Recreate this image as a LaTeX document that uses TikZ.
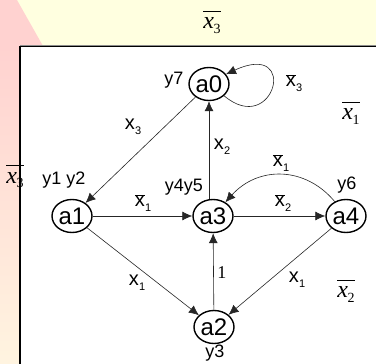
\documentclass[tikz,border=0pt]{standalone}
\usepackage{fontspec}
\setmainfont{Liberation Sans}
\newfontfamily\tms{Liberation Serif}
\usetikzlibrary{shapes.geometric,arrows.meta,calc}
\definecolor{bgyellow}{HTML}{FFFFE0}
\definecolor{bgpink}{HTML}{FFD2D0}
\definecolor{bgcream}{HTML}{FFF4E0}
\newcommand\xbr[1]{$\overline{\hbox{x}}$\kern0.3pt\raisebox{-0.45ex}{\fontsize{11}{11}\selectfont #1}}
\newcommand\xpl[1]{x\kern0.3pt\raisebox{-0.45ex}{\fontsize{11}{11}\selectfont #1}}
\newcommand\olab[1]{$\overline{\hbox{\vphantom{A}\tms\itshape x\/\kern-0.5pt\raisebox{-0.45ex}{\upshape\fontsize{14}{14}\selectfont #1}}}$}
\tikzset{
  st/.style={ellipse, draw, line width=1.4pt, minimum width=40pt, minimum height=33pt, inner sep=0pt, font=\fontsize{24}{24}\selectfont},
  ylab/.style={font=\fontsize{18}{18}\selectfont, inner sep=0pt},
  elab/.style={font=\fontsize{20}{20}\selectfont, inner sep=0pt},
  olabs/.style={font=\fontsize{24}{24}\selectfont, inner sep=0pt, anchor=base},
  conn/.style={line width=0.6pt, draw=black!85, -{Latex[length=10pt,width=9pt]}}
}
\begin{document}
\begin{tikzpicture}[x=1pt,y=-1pt]
\useasboundingbox (0,0) rectangle (376,364);
% background
\fill[bgyellow] (0,0) rectangle (376,46);
\fill[bgpink] (0,0) -- (17,0) -- (43,46) -- (0,46) -- cycle;
\shade[top color=bgpink, bottom color=bgcream] (0,46) rectangle (20,364);
\fill[white] (20,46) rectangle (377,365);
\draw[black!45, line width=1pt] (20,45.2) -- (377,45.2);
\draw[black, line width=1.4pt] (20,365) -- (20,46.5) -- (377,46.5);
% outside labels
\node[olabs] (t3) at (212,29) {\olab{3}};
\node[olabs] (l3) at (15,183) {\olab{3}};
\node[olabs] (r1) at (351,120) {\olab{1}};
\node[olabs] (r2) at (346,298) {\olab{2}};
% states
\node[st] (a0) at (209,84) {a0};
\node[st] (a1) at (72,216) {a1};
\node[st] (a3) at (213,216) {a3};
\node[st] (a4) at (346,216) {a4};
\node[st] (a2) at (214,327) {a2};
% output labels
\node[ylab] (y7) at (174,80) {y7};
\node[ylab] (y12) at (64,180) {y1 y2};
\node[ylab] (y45) at (184,187) {y4y5};
\node[ylab] (y6) at (347,185) {y6};
\node[ylab] (y3) at (215,353) {y3};
% connectors
\draw[conn] (a0) -- (a1);
\draw[conn] (a3.north -| a0.south) -- (a0.south);
\draw[conn] (a1) -- (a3);
\draw[conn] (a1) -- (a2);
\draw[conn] (a3) -- (a4);
\draw[conn] (a2) -- (a3);
\draw[conn] (a4) -- (a2);
\draw[conn] (a4.128) .. controls (305,166) and (258,166) .. (a3.48);
\draw[conn] (a0.-38) .. controls (274,138) and (300,40) .. (a0.30);
% connector labels
\node[elab] (lx3) at (133,127) {\xpl{3}};
\node[elab] (lx2) at (222,147) {\xpl{2}};
\node[elab] (lb1) at (143,203) {\xbr{1}};
\node[elab] (lx1a) at (137,283) {\xpl{1}};
\node[elab] (lb2) at (283,203) {\xbr{2}};
\node[elab] (lb1c) at (281,163) {\xbr{1}};
\node[elab, font=\tms\fontsize{18}{18}\selectfont] (lone) at (222,273) {1};
\node[elab] (lx1b) at (297,280) {\xpl{1}};
\node[elab] (lb3) at (294,83) {\xbr{3}};
\end{tikzpicture}
\end{document}
